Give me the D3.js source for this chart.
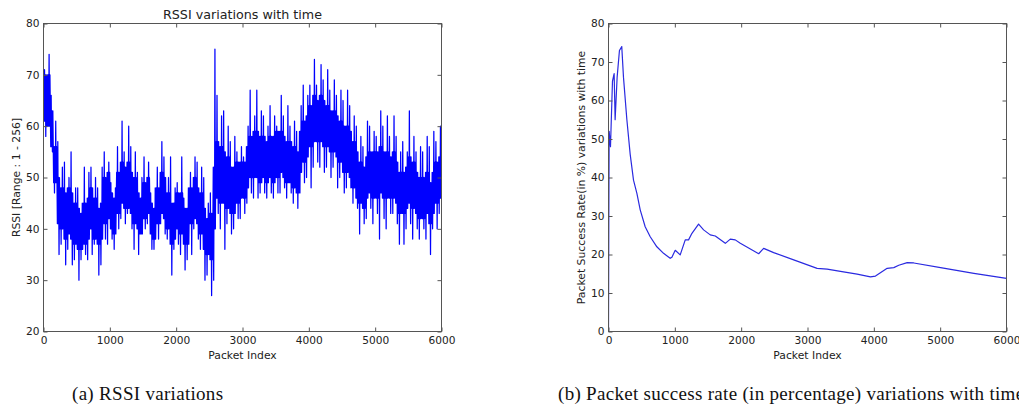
<!DOCTYPE html>
<html>
<head>
<meta charset="utf-8">
<script src="https://cdn.jsdelivr.net/npm/d3@7"></script>
<style>
  html, body { margin: 0; padding: 0; background: #fff; }
  svg { display: block; }
  .tick text { font-family: "DejaVu Sans", sans-serif; font-size: 10.6px; fill: #222; }
  .lbl { font-family: "DejaVu Sans", sans-serif; font-size: 10.8px; fill: #222; }
  .ttl { font-family: "DejaVu Sans", sans-serif; font-size: 12.7px; fill: #222; }
  .cap { font-family: "Liberation Serif", serif; font-size: 19px; letter-spacing: 0.3px; fill: #111; }
</style>
</head>
<body>
<svg id="fig" width="1019" height="406"></svg>
<script>
// RSSI readings summarised per 50-packet block
const rssiBlock = 50;
// extreme values reached in each block
const rssiHigh = [
  71, 74, 66, 61, 57, 52, 53, 50, 55, 48,
  48, 45, 52, 51, 52, 50, 48, 52, 55, 53,
  49, 48, 56, 61, 55, 60, 56, 55, 51, 50,
  54, 53, 47, 48, 52, 57, 54, 50, 54, 48,
  49, 54, 46, 48, 51, 54, 53, 52, 50, 45,
  47, 75, 66, 62, 63, 60, 57, 58, 55, 56,
  54, 60, 67, 62, 67, 63, 62, 60, 64, 62,
  60, 66, 62, 64, 60, 61, 59, 64, 68, 66,
  68, 73, 68, 72, 69, 71, 67, 69, 66, 67,
  65, 67, 64, 62, 60, 58, 56, 61, 60, 59,
  58, 63, 60, 62, 58, 62, 58, 55, 57, 55,
  63, 58, 55, 56, 55, 58, 56, 59, 57, 60
];
const rssiLow = [
  58, 60, 55, 47, 35, 37, 33, 36, 33, 34,
  30, 34, 35, 34, 35, 37, 31, 33, 38, 37,
  38, 36, 40, 42, 41, 43, 40, 36, 35, 39,
  40, 41, 36, 36, 38, 41, 39, 38, 31, 36,
  37, 35, 32, 34, 35, 40, 38, 36, 30, 31,
  27, 30, 43, 40, 36, 41, 39, 40, 42, 42,
  43, 45, 47, 46, 46, 47, 47, 46, 47, 46,
  47, 47, 48, 46, 47, 45, 44, 47, 49, 50,
  48, 52, 53, 52, 51, 52, 50, 52, 48, 50,
  47, 48, 48, 45, 44, 39, 41, 42, 44, 41,
  43, 38, 42, 40, 43, 43, 41, 37, 37, 40,
  41, 38, 40, 38, 40, 38, 35, 40, 40, 43
];
// dense (typical) range of each block
const rssiCoreHigh = [
  70, 70, 63, 56, 50, 48, 47, 48, 47, 45,
  44, 43, 45, 46, 48, 46, 44, 45, 50, 51,
  47, 46, 51, 53, 52, 53, 51, 50, 47, 46,
  49, 50, 45, 44, 48, 51, 50, 47, 45, 45,
  47, 47, 44, 44, 48, 50, 48, 47, 44, 42,
  43, 52, 57, 56, 55, 54, 52, 52, 53, 53,
  53, 56, 58, 59, 59, 58, 58, 57, 58, 58,
  59, 59, 58, 57, 57, 56, 55, 59, 61, 62,
  64, 66, 65, 66, 65, 64, 63, 63, 62, 61,
  60, 60, 59, 57, 55, 53, 52, 54, 55, 55,
  55, 56, 55, 55, 54, 55, 53, 51, 51, 52,
  54, 53, 51, 50, 50, 51, 49, 51, 53, 54
];
const rssiCoreLow = [
  61, 60, 56, 49, 41, 40, 38, 39, 38, 37,
  36, 36, 37, 38, 40, 38, 37, 38, 41, 42,
  40, 39, 43, 45, 44, 44, 43, 41, 40, 39,
  42, 43, 39, 38, 41, 43, 42, 40, 37, 38,
  40, 39, 37, 37, 41, 42, 41, 39, 36, 35,
  34, 40, 46, 45, 45, 44, 43, 43, 45, 46,
  46, 48, 50, 50, 50, 49, 50, 49, 50, 49,
  50, 51, 50, 49, 49, 48, 47, 51, 53, 54,
  56, 57, 57, 57, 56, 56, 55, 55, 54, 53,
  51, 51, 50, 48, 46, 45, 44, 46, 47, 46,
  46, 47, 46, 46, 46, 46, 45, 43, 43, 44,
  45, 44, 43, 42, 42, 43, 41, 43, 45, 46
];

// Packet success rate (%) against packet index
const psrIndex = [0, 5, 10, 30, 60, 85, 100, 130, 165, 200, 226, 277, 327, 377, 428, 478, 553, 629, 729, 830, 930, 956, 1006, 1081, 1157, 1207, 1258, 1358, 1434, 1534, 1610, 1761, 1836, 1911, 1987, 2264, 2339, 2490, 2792, 3145, 3296, 3497, 3748, 3949, 4025, 4201, 4301, 4376, 4503, 4603, 5006, 5508, 6000];
const psrValue = [0, 30, 52, 48, 65, 67, 55, 66, 73, 74, 66, 55, 46, 39.3, 35.9, 31.6, 27.2, 24.6, 22, 20.3, 19, 19.3, 21.1, 19.9, 23.8, 23.8, 25.5, 27.9, 26.4, 25.1, 24.8, 22.9, 24, 23.8, 22.9, 20.2, 21.6, 20.5, 18.6, 16.4, 16.2, 15.6, 14.9, 14.2, 14.4, 16.4, 16.6, 17.2, 17.9, 17.8, 16.6, 15.1, 13.8];

// Axis ticks
const xTicks = [0, 1000, 2000, 3000, 4000, 5000, 6000];
const rssiTicks = [20, 30, 40, 50, 60, 70, 80];
const psrTicks = [0, 10, 20, 30, 40, 50, 60, 70, 80];

const svg = d3.select("#fig");
const frameColor = "#555";

function panel(opts) {
  const g = svg.append("g");
  const x = d3.scaleLinear().domain([0, 6000]).range([opts.left, opts.right]);
  const y = d3.scaleLinear().domain(opts.yDomain).range([opts.bottom, opts.top]);

  const clipId = "clip-" + opts.id;
  svg.append("clipPath").attr("id", clipId)
    .append("rect").attr("x", opts.left).attr("y", opts.top)
    .attr("width", opts.right - opts.left).attr("height", opts.bottom - opts.top);

  // data line
  g.append("path")
    .datum(opts.points)
    .attr("clip-path", `url(#${clipId})`)
    .attr("fill", "none")
    .attr("stroke", opts.color)
    .attr("stroke-width", opts.width)
    .attr("stroke-linejoin", "round")
    .attr("d", d3.line().x(d => x(d[0])).y(d => y(d[1])));

  // inward ticks on all four sides
  const tl = 4;
  const bottomAx = g.append("g").attr("transform", `translate(0,${opts.bottom})`)
    .call(d3.axisBottom(x).tickValues(xTicks).tickFormat(d3.format("d")).tickSize(-tl).tickPadding(5));
  const topAx = g.append("g").attr("transform", `translate(0,${opts.top})`)
    .call(d3.axisTop(x).tickValues(xTicks).tickFormat("").tickSize(-tl));
  const leftAx = g.append("g").attr("transform", `translate(${opts.left},0)`)
    .call(d3.axisLeft(y).tickValues(opts.yTicks).tickFormat(d3.format("d")).tickSize(-tl).tickPadding(4));
  const rightAx = g.append("g").attr("transform", `translate(${opts.right},0)`)
    .call(d3.axisRight(y).tickValues(opts.yTicks).tickFormat("").tickSize(-tl));
  [bottomAx, topAx, leftAx, rightAx].forEach(a => {
    a.select(".domain").remove();
    a.selectAll(".tick line").attr("stroke", frameColor);
  });

  g.append("rect")
    .attr("x", opts.left).attr("y", opts.top)
    .attr("width", opts.right - opts.left).attr("height", opts.bottom - opts.top)
    .attr("fill", "none").attr("stroke", frameColor).attr("stroke-width", 1);

  const cx = (opts.left + opts.right) / 2;
  const cy = (opts.top + opts.bottom) / 2;
  if (opts.title) {
    g.append("text").attr("class", "ttl").attr("x", cx).attr("y", opts.top - 5)
      .attr("text-anchor", "middle").text(opts.title);
  }
  g.append("text").attr("class", "lbl").attr("x", cx).attr("y", opts.bottom + 27)
    .attr("text-anchor", "middle").text(opts.xLabel);
  g.append("text").attr("class", "lbl")
    .attr("transform", `translate(${opts.yLabelX},${cy}) rotate(-90)`)
    .attr("text-anchor", "middle").text(opts.yLabel);
}

// dense trace: each block touches its extremes once and otherwise swings
// within its typical range
const rssiPoints = [[0, rssiCoreHigh[0]]];
rssiHigh.forEach((h, i) => {
  const start = i * rssiBlock;
  const lo = rssiLow[i];
  const cHi = Math.max(lo, Math.min(h, rssiCoreHigh[i]));
  const cLo = Math.max(lo, Math.min(h, rssiCoreLow[i]));
  const seq = i % 2 === 0
    ? [cHi, cLo, h, cLo, cHi, lo, cHi, cLo]
    : [cLo, cHi, lo, cHi, cLo, h, cLo, cHi];
  const step = rssiBlock / seq.length;
  seq.forEach((v, k) => rssiPoints.push([start + (k + 0.5) * step, v]));
});
rssiPoints.push([6000, rssiCoreLow[rssiCoreLow.length - 1]]);

panel({
  id: "rssi", left: 43.5, right: 441.5, top: 23.5, bottom: 331.5,
  yDomain: [20, 80], yTicks: rssiTicks,
  points: rssiPoints, color: "#0000ff", width: 1.25,
  title: "RSSI variations with time", xLabel: "Packet Index",
  yLabel: "RSSI [Range : 1 - 256]", yLabelX: 20
});

panel({
  id: "psr", left: 608.5, right: 1006.5, top: 23.5, bottom: 331.5,
  yDomain: [0, 80], yTicks: psrTicks,
  points: psrIndex.map((p, i) => [p, psrValue[i]]), color: "#2a2ae0", width: 1.2,
  xLabel: "Packet Index",
  yLabel: "Packet Success Rate(in %) variations with time", yLabelX: 584.5
});

svg.append("text").attr("class", "cap").attr("x", 72).attr("y", 400).text("(a) RSSI variations");
svg.append("text").attr("class", "cap").attr("x", 558).attr("y", 400)
  .text("(b) Packet success rate (in percentage) variations with time");
</script>
</body>
</html>
